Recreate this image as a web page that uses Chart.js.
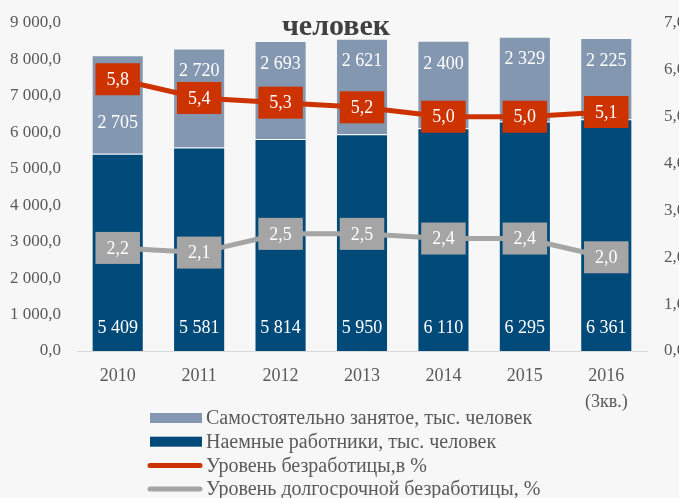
<!DOCTYPE html>
<html>
<head>
<meta charset="utf-8">
<script src="https://cdn.jsdelivr.net/npm/chart.js@4.4.0/dist/chart.umd.min.js"></script>
<style>
    html, body { margin: 0; padding: 0; background: #f7f7f7; overflow: hidden; }
    #wrap { width: 679px; height: 498px; }
</style>
</head>
<body>
<div id="wrap"><canvas id="chart" width="679" height="498"></canvas></div>
<script>
// Data
const years = ['2010', '2011', '2012', '2013', '2014', '2015', ['2016', '(3кв.)']];
const selfEmployed = [2705, 2720, 2693, 2621, 2400, 2329, 2225];
const employees = [5409, 5581, 5814, 5950, 6110, 6295, 6361];
const unemployment = [5.8, 5.4, 5.3, 5.2, 5.0, 5.0, 5.1];
const longTermUnemployment = [2.2, 2.1, 2.5, 2.5, 2.4, 2.4, 2.0];

const FONT = '"Liberation Serif", "DejaVu Serif", serif';
const TEXT = '#595959';
const C_SELF = '#8497b0';
const C_EMP = '#004a7a';
const C_RED = '#cc3300';
const C_GRAY = '#a5a5a5';

function fmt(v, dec) {
    const parts = v.toFixed(dec).split('.');
    parts[0] = parts[0].replace(/\B(?=(\d{3})+(?!\d))/g, ' ');
    return parts.join(',');
}

const labelsPlugin = {
    id: 'labels',
    afterDatasetsDraw(chart) {
        const ctx = chart.ctx;
        const emp = chart.getDatasetMeta(0);
        const self = chart.getDatasetMeta(1);
        const red = chart.getDatasetMeta(2);
        const gray = chart.getDatasetMeta(3);
        ctx.save();
        ctx.font = '18px ' + FONT;
        ctx.textAlign = 'center';
        ctx.textBaseline = 'middle';
        ctx.fillStyle = '#ffffff';

        emp.data.forEach((bar, i) => {
            ctx.fillText(fmt(employees[i], 0), bar.x, bar.base - 23);
        });
        self.data.forEach((bar, i) => {
            let y = bar.y + 23;
            // move down if the red label sits on top of it
            if (Math.abs(y - red.data[i].y) < 20) y = bar.base - 31;
            ctx.fillText(fmt(selfEmployed[i], 0), bar.x, y);
        });

        const boxes = (meta, values, color) => {
            meta.data.forEach((pt, i) => {
                const txt = fmt(values[i], 1);
                const w = ctx.measureText(txt).width + 22;
                ctx.fillStyle = color;
                ctx.fillRect(pt.x - w / 2, pt.y - 16, w, 32);
                ctx.fillStyle = '#ffffff';
                ctx.fillText(txt, pt.x, pt.y + 1);
            });
        };
        boxes(red, unemployment, C_RED);
        boxes(gray, longTermUnemployment, C_GRAY);
        ctx.restore();
    },
    afterDraw(chart) {
        const ctx = chart.ctx;
        ctx.save();
        // title (upper line is cut off in the original)
        ctx.font = 'bold 30px ' + FONT;
        ctx.fillStyle = '#404040';
        ctx.textAlign = 'center';
        ctx.textBaseline = 'alphabetic';
        ctx.fillText('человек', 336, 35);

        // legend
        const order = [1, 0, 2, 3];
        ctx.font = '20px ' + FONT;
        ctx.textAlign = 'left';
        ctx.textBaseline = 'middle';
        order.forEach((idx, row) => {
            const ds = chart.data.datasets[idx];
            const y = 418 + row * 23.7;
            if (ds.type === 'line') {
                ctx.strokeStyle = ds.borderColor;
                ctx.lineWidth = 5;
                ctx.lineCap = 'round';
                ctx.beginPath();
                ctx.moveTo(150, y);
                ctx.lineTo(200, y);
                ctx.stroke();
            } else {
                ctx.fillStyle = ds.backgroundColor;
                ctx.fillRect(150, y - 5, 52, 10);
            }
            ctx.fillStyle = TEXT;
            ctx.fillText(ds.label, 206, y + 1);
        });
        ctx.restore();
    }
};

new Chart(document.getElementById('chart'), {
    data: {
        labels: years,
        datasets: [
            {
                type: 'bar',
                label: 'Наемные работники, тыс. человек',
                data: employees,
                backgroundColor: C_EMP,
                borderColor: 'rgba(255,255,255,0.25)',
                borderWidth: 1,
                yAxisID: 'y',
                order: 1,
                barPercentage: 0.64,
                categoryPercentage: 1
            },
            {
                type: 'bar',
                label: 'Самостоятельно занятое, тыс. человек',
                data: selfEmployed,
                backgroundColor: C_SELF,
                borderColor: 'rgba(255,255,255,0.3)',
                borderWidth: 1,
                yAxisID: 'y',
                order: 1,
                barPercentage: 0.64,
                categoryPercentage: 1
            },
            {
                type: 'line',
                label: 'Уровень безработицы,в %',
                data: unemployment,
                borderColor: C_RED,
                backgroundColor: C_RED,
                borderWidth: 5,
                pointRadius: 0,
                tension: 0,
                yAxisID: 'y1',
                order: 0
            },
            {
                type: 'line',
                label: 'Уровень долгосрочной безработицы, %',
                data: longTermUnemployment,
                borderColor: C_GRAY,
                backgroundColor: C_GRAY,
                borderWidth: 5,
                pointRadius: 0,
                tension: 0,
                yAxisID: 'y1',
                order: 0
            }
        ]
    },
    options: {
        responsive: false,
        animation: false,
        layout: { padding: { top: 23, left: 0, right: 0, bottom: 0 } },
        plugins: {
            legend: { display: false },
            title: { display: false },
            tooltip: { enabled: false }
        },
        scales: {
            x: {
                stacked: true,
                grid: { display: false, drawTicks: false },
                border: { color: '#d9d9d9', width: 1 },
                ticks: {
                    color: TEXT,
                    font: { family: FONT, size: 18, lineHeight: 1.4 },
                    padding: 13,
                    maxRotation: 0
                },
                afterFit(scale) { scale.height = 147; }
            },
            y: {
                stacked: true,
                position: 'left',
                min: 0,
                max: 9000,
                grid: { display: false, drawTicks: false },
                border: { display: false },
                ticks: {
                    stepSize: 1000,
                    color: TEXT,
                    font: { family: FONT, size: 17 },
                    padding: 16,
                    callback: v => fmt(v, 1)
                },
                afterFit(scale) {
                    scale.width = 77;
                    scale.paddingTop = 0;
                    scale.paddingBottom = 0;
                }
            },
            y1: {
                position: 'right',
                min: 0,
                max: 7,
                grid: { display: false, drawTicks: false },
                border: { display: false },
                ticks: {
                    stepSize: 1,
                    color: TEXT,
                    font: { family: FONT, size: 17 },
                    padding: 17,
                    callback: v => fmt(v, 1)
                },
                afterFit(scale) {
                    scale.width = 32;
                    scale.paddingTop = 0;
                    scale.paddingBottom = 0;
                }
            }
        }
    },
    plugins: [labelsPlugin]
});
</script>
</body>
</html>
